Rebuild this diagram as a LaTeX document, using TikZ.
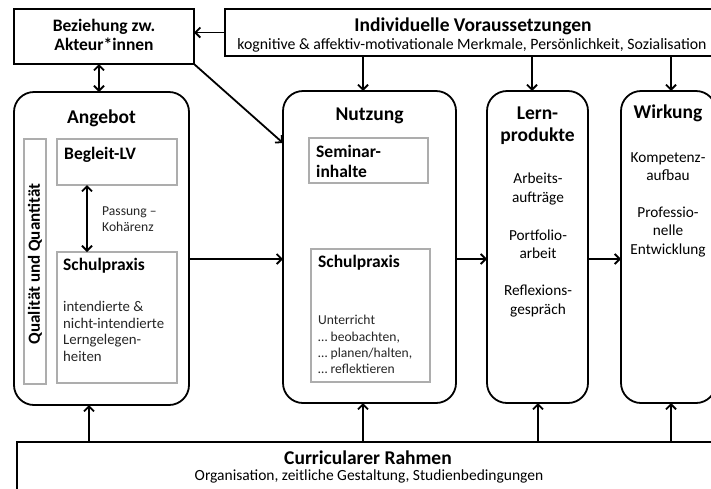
\documentclass[tikz,border=0pt]{standalone}
\usepackage{fontspec}
\setmainfont{Carlito}
\usetikzlibrary{arrows.meta}
\begin{document}
\begin{tikzpicture}[x=1pt,y=-1pt,
  box/.style={draw=black,line width=1.8pt,rectangle,inner sep=0pt,outer sep=0pt},
  rbox/.style={box,rounded corners=20pt},
  gbox/.style={draw=black!32,line width=1.2pt,rectangle,inner sep=0pt,outer sep=0pt},
  arr/.style={line width=1.8pt,-{Straight Barb[length=5pt,width=10pt]}},
  darr/.style={line width=1.8pt,{Straight Barb[length=5pt,width=10pt]}-{Straight Barb[length=5pt,width=10pt]}},
  ttl/.style={font=\fontsize{19.5}{22}\selectfont\bfseries,inner sep=0pt,align=center},
  sub/.style={font=\fontsize{17.5}{20}\selectfont\bfseries,inner sep=0pt},
  txt/.style={font=\fontsize{15.3}{18.3}\selectfont,inner sep=0pt},
  btxt/.style={font=\fontsize{14.8}{16.6}\selectfont,inner sep=0pt,align=left,text=black!85},
  stxt/.style={font=\fontsize{13.6}{16.2}\selectfont,inner sep=0pt,align=left,text=black!85},
]
\useasboundingbox (0,0) rectangle (711,488);
\fill[white] (0,0) rectangle (711,488);
\begin{scope}
\clip (0,0) rectangle (711,488);
% main boxes
\node[box,minimum width=180pt,minimum height=55pt] (bez) at (104,36.5) {};
\node[box,minimum width=494pt,minimum height=47pt] (ind) at (472,32.5) {};
\node[rbox,minimum width=175pt,minimum height=313pt] (ang) at (101.5,248.5) {};
\node[rbox,minimum width=173pt,minimum height=312pt] (nut) at (369.5,247) {};
\node[rbox,minimum width=101pt,minimum height=312pt] (lern) at (537.5,247) {};
\node[rbox,minimum width=95pt,minimum height=312pt] (wirk) at (668.5,247) {};
\node[box,minimum width=703pt,minimum height=58pt] (cur) at (368.5,471) {};
% inner boxes
\node[gbox,minimum width=22pt,minimum height=245pt] (qual) at (35,261.5) {};
\node[gbox,minimum width=120pt,minimum height=46pt] (beg) at (117,162) {};
\node[gbox,minimum width=120pt,minimum height=131pt] (sp1) at (117,317.5) {};
\node[gbox,minimum width=119pt,minimum height=45pt] (sem) at (368.5,160.5) {};
\node[gbox,minimum width=119pt,minimum height=133pt] (sp2) at (370.5,315.5) {};
% texts
\node[sub,align=center] (tbez) at (104,35) {Beziehung zw.\\[-1pt]Akteur*innen};
\node[ttl] (tind) at (473,26) {Individuelle Voraussetzungen};
\node[font=\fontsize{15.8}{18}\selectfont,inner sep=0pt] (tinds) at (472,45.5) {kognitive \& affektiv-motivationale Merkmale, Persönlichkeit, Sozialisation};
\node[ttl] (tang) at (101.5,118) {Angebot};
\node[ttl] (tnut) at (369.5,116) {Nutzung};
\node[ttl] (tlern) at (537.5,126) {Lern-\\produkte};
\node[ttl] (twirk) at (668,113) {Wirkung};
\node[ttl] (tcur) at (368,457.5) {Curricularer Rahmen};
\node[font=\fontsize{15.5}{18}\selectfont,inner sep=0pt] (tcurs) at (369,476) {Organisation, zeitliche Gestaltung, Studienbedingungen};
\node[font=\fontsize{17}{20}\selectfont\bfseries,inner sep=0pt,rotate=90] (tqual) at (35,264) {Qualität und Quantität};
\node[sub,anchor=west] (tbeg) at (64,155) {Begleit-LV};
\node[sub,anchor=west] (tsp1) at (63,266) {Schulpraxis};
\node[btxt,anchor=west] (tsp1b) at (63,331.5) {intendierte \&\\nicht-intendierte\\Lerngelegen-\\heiten};
\node[stxt,anchor=west] (tpass) at (102,219) {Passung –\\Kohärenz};
\node[sub,anchor=west,align=left,font=\fontsize{17.5}{19.5}\selectfont\bfseries] (tsem) at (316,161.5) {Seminar-\\inhalte};
\node[sub,anchor=west] (tsp2) at (318,263) {Schulpraxis};
\node[stxt,anchor=west] (tsp2b) at (318,344.5) {Unterricht\\… beobachten,\\… planen/halten,\\… reflektieren};
\node[txt,align=center] (tlernb) at (538,245) {Arbeits-\\aufträge\\[20pt]Portfolio-\\arbeit\\[19pt]Reflexions-\\gespräch};
\node[txt,align=center] (twirkb) at (668,204.5) {Kompetenz-\\aufbau\\[19pt]Professio-\\nelle\\Entwicklung};
% helper coordinates
\coordinate (x87) at (87,0);
\coordinate (x89) at (89,0);
\coordinate (x99) at (99,0);
\coordinate (x363) at (363,0);
\coordinate (x532) at (532,0);
\coordinate (x538) at (538,0);
\coordinate (x671) at (671,0);
\coordinate (y259) at (0,259);
\coordinate (y143) at (0,143);
% connectors
\draw[arr] (ind.west) -- (bez.east |- ind.west);
\draw[darr] (bez.south -| x99) -- (ang.north -| x99);
\draw[arr] (bez.south east) -- (nut.west |- y143);
\draw[darr] (beg.south -| x87) -- (sp1.north -| x87);
\draw[arr] (ang.east |- y259) -- (nut.west |- y259);
\draw[arr] (nut.east |- y259) -- (lern.west |- y259);
\draw[arr] (lern.east |- y259) -- (wirk.west |- y259);
\draw[arr] (ind.south -| x363) -- (nut.north -| x363);
\draw[arr] (ind.south -| x532) -- (lern.north -| x532);
\draw[arr] (ind.south -| x671) -- (wirk.north -| x671);
\draw[arr] (cur.north -| x89) -- (ang.south -| x89);
\draw[arr] (cur.north -| x363) -- (nut.south -| x363);
\draw[arr] (cur.north -| x538) -- (lern.south -| x538);
\draw[arr] (cur.north -| x671) -- (wirk.south -| x671);
\end{scope}
\end{tikzpicture}
\end{document}
